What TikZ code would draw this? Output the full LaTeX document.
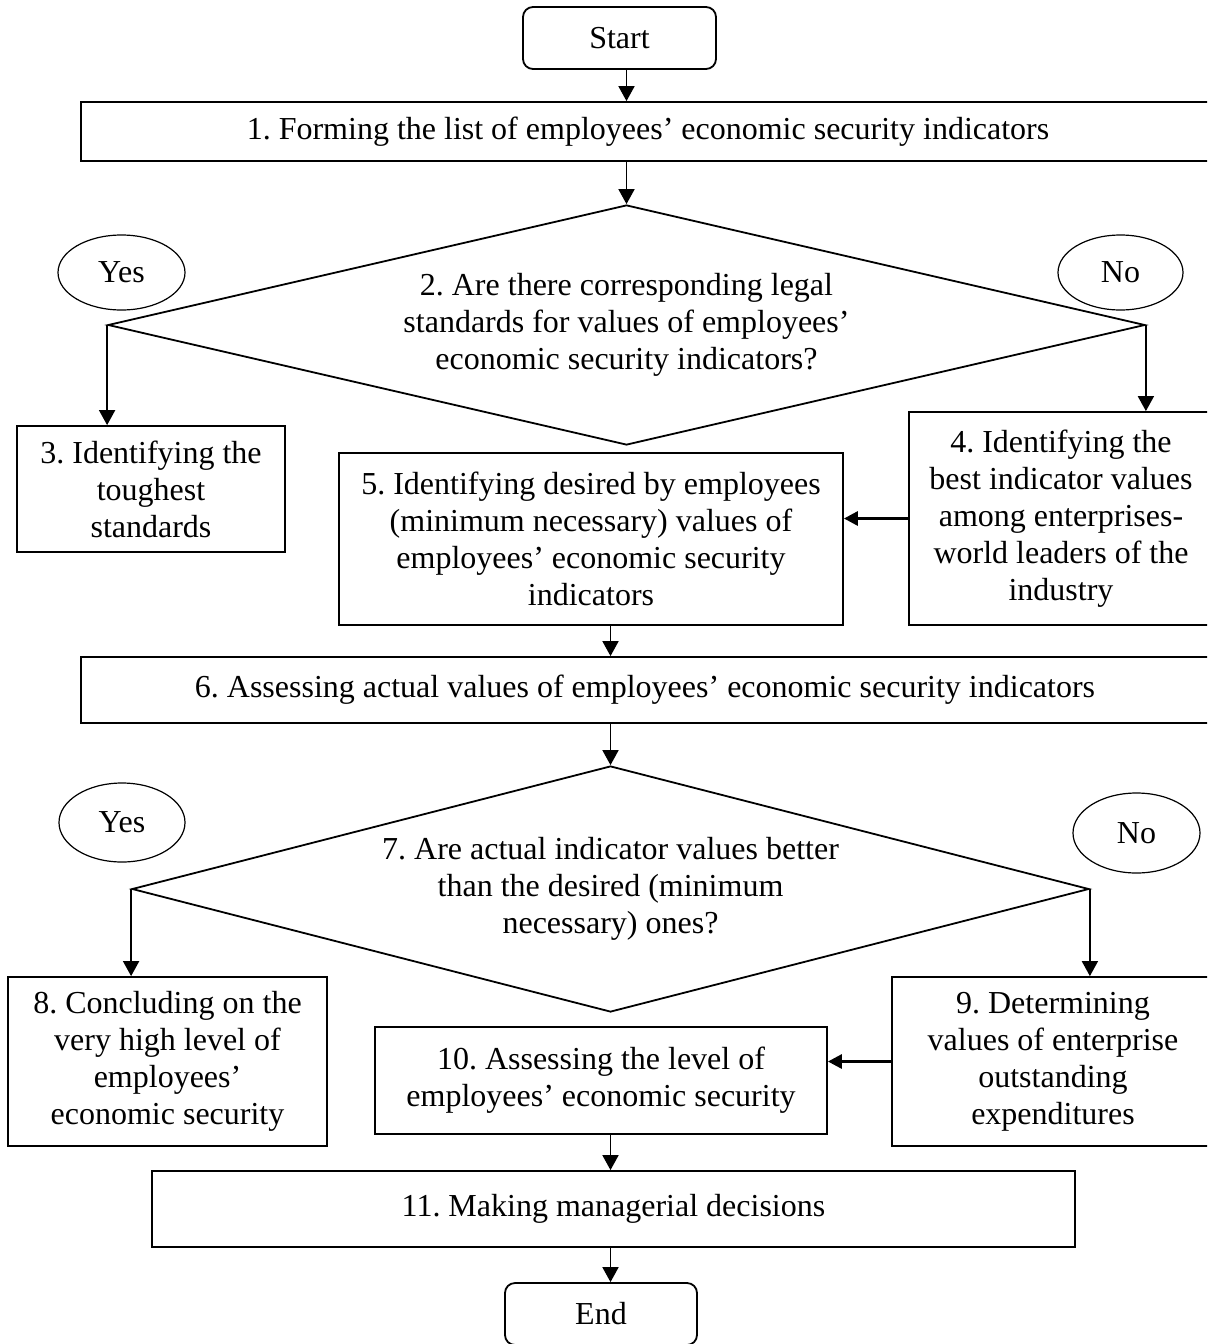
\documentclass[tikz,border=0pt]{standalone}
\usepackage{fontspec}
\setmainfont{Liberation Serif}
\usetikzlibrary{shapes.geometric,arrows.meta}
\frenchspacing

\tikzset{
  txt/.style={font=\fontsize{16}{18.5}\selectfont,align=center,inner sep=0pt},
  stepbox/.style={txt,draw,line width=0.9pt,rectangle},
  term/.style={stepbox,rounded corners=5pt},
  choice/.style={txt,draw,line width=0.9pt,diamond},
  tag/.style={txt,draw,line width=0.6pt,ellipse},
  arr/.style={draw,line width=0.9pt,-{Triangle[length=7.5pt,width=8pt]}},
  harr/.style={arr,line width=1.5pt,-{Triangle[length=7pt,width=7pt]}},
}

\begin{document}
\begin{tikzpicture}[x=0.5pt,y=-0.5pt]
  \clip (0,0) rectangle (1207,1344);
  \fill[white] (0,0) rectangle (1207,1344);
  % upper part
  \node[term,minimum width=96.5pt,minimum height=31pt] (start) at (619.5,38) {Start};
  \node[stepbox,minimum width=567pt,minimum height=29.5pt] (b1) at (648,131.5)
    {1. Forming the list of employees' economic security indicators};
  \node[choice,aspect=4.32,minimum width=518.5pt,minimum height=120pt] (d2) at (626.5,325)
    {2. Are there corresponding legal\\standards for values of employees'\\economic security indicators?};
  \node[tag,minimum width=63.5pt,minimum height=37.5pt] (yes1) at (121.5,272.5) {Yes};
  \node[tag,minimum width=62.5pt,minimum height=37.5pt] (no1) at (1120.5,272.5) {No};
  \node[stepbox,minimum width=134pt,minimum height=63pt] (b3) at (151,489)
    {3. Identifying the\\toughest\\standards};
  \node[stepbox,minimum width=152pt,minimum height=106.5pt] (b4) at (1061,518.5)
    {4. Identifying the\\best indicator values\\among enterprises-\\world leaders of the\\industry};
  \node[stepbox,minimum width=252pt,minimum height=86pt] (b5) at (591,539)
    {5. Identifying desired by employees\\(minimum necessary) values of\\employees' economic security\\indicators};
  \node[stepbox,minimum width=564pt,minimum height=33pt] (b6) at (645,690)
    {6. Assessing actual values of employees' economic security indicators};
  % lower part
  \node[choice,aspect=3.89,minimum width=478.5pt,minimum height=123pt] (d7) at (610.5,889)
    {7. Are actual indicator values better\\than the desired (minimum\\necessary) ones?};
  \node[tag,minimum width=63pt,minimum height=39.5pt] (yes2) at (122,822.5) {Yes};
  \node[tag,minimum width=63.5pt,minimum height=40pt] (no2) at (1136.5,833) {No};
  \node[stepbox,minimum width=159.5pt,minimum height=84.5pt] (b8) at (167.5,1061.5)
    {8. Concluding on the\\very high level of\\employees'\\economic security};
  \node[stepbox,minimum width=161pt,minimum height=84.5pt] (b9) at (1053,1061.5)
    {9. Determining\\values of enterprise\\outstanding\\expenditures};
  \node[stepbox,minimum width=226pt,minimum height=53.5pt] (b10) at (601,1080.5)
    {10. Assessing the level of\\employees' economic security};
  \node[stepbox,minimum width=461.5pt,minimum height=38pt] (b11) at (613.5,1209)
    {11. Making managerial decisions};
  \node[term,minimum width=96pt,minimum height=31pt] (end) at (601,1314) {End};

  % connectors
  \draw[arr] (start.south -| d2.north) -- (b1.north -| d2.north);
  \draw[arr] (b1.south -| d2.north) -- (d2.north);
  \draw[arr] (d2.west) -- (d2.west |- b3.north);
  \draw[arr] (d2.east) -- (d2.east |- b4.north);
  \draw[harr] (b4.west) -- (b4.west -| b5.east);
  \draw[arr] (b5.south -| d7.north) -- (b6.north -| d7.north);
  \draw[arr] (b6.south -| d7.north) -- (d7.north);
  \draw[arr] (d7.west) -- (d7.west |- b8.north);
  \draw[arr] (d7.east) -- (d7.east |- b9.north);
  \draw[harr] (b9.west) -- (b9.west -| b10.east);
  \draw[arr] (b10.south -| d7.north) -- (b11.north -| d7.north);
  \draw[arr] (b11.south -| d7.north) -- (end.north -| d7.north);
\end{tikzpicture}
\end{document}
